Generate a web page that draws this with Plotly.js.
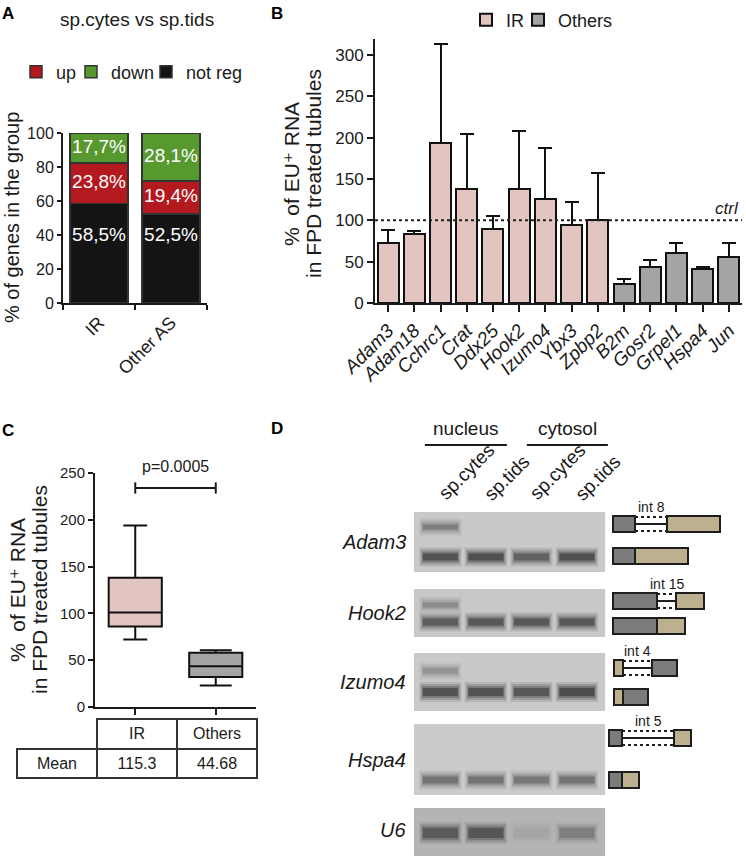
<!DOCTYPE html>
<html><head><meta charset="utf-8">
<script src="https://cdn.plot.ly/plotly-3.0.1.min.js"></script>
<style>html,body{margin:0;padding:0;background:#fff}#chart{width:746px;height:856px}</style>
</head><body><div id="chart"></div>
<script>
// ---------------- Panel A data ----------------
const groupsA = ['IR', 'Other AS'];
const notRegA = [58.5, 52.5];
const upA = [23.8, 19.4];
const downA = [17.7, 28.1];

// ---------------- Panel B data ----------------
const genesIR = ['Adam3','Adam18','Cchrc1','Crat','Ddx25','Hook2','Izumo4','Ybx3','Zpbp2'];
const valuesIR = [72, 83, 194, 138, 89, 138, 126, 94, 101];
const errorsIR = [16, 4, 119, 66, 16, 70, 61, 28, 56];
const genesOthers = ['B2m','Gosr2','Grpel1','Hspa4','Jun'];
const valuesOthers = [23, 43.5, 60.5, 41, 55.5];
const errorsOthers = [6, 8.5, 11.5, 2, 16.5];
const ctrlLevel = 100;

// ---------------- Panel C data ----------------
const tableHeader = [' ', 'IR', 'Others'];
const tableRow = ['Mean', '115.3', '44.68'];
const pValueText = 'p=0.0005';
const bracketLevel = 234;

// ---------------- Panel D data ----------------
const gelGenes = ['Adam3','Hook2','Izumo4','Hspa4','U6'];
const laneLabels = ['sp.cytes','sp.tids','sp.cytes','sp.tids'];
const fractions = ['nucleus','cytosol'];
const fractionLaneStart = [0.66, 2.9];
const fractionLaneEnd = [2.46, 4.68];
const gelTop = [512, 589, 653, 724, 808];
const gelBottom = [572, 637, 711, 795, 858];
const gelShade = ['#c9c9c9','#c8c8c8','#c9c9c9','#cbcbcb','#b4b4b4'];
const upperBandY = [527, 605, 671, null, null];
const lowerBandY = [557, 622, 692, 780, 833];
const upperBand = [[0.45,0,0,0],[0.35,0,0,0],[0.3,0,0,0],[0,0,0,0],[0,0,0,0]];
const lowerBand = [[0.85,0.9,0.7,0.9],[0.75,0.8,0.8,0.8],[0.85,0.85,0.8,0.95],[0.55,0.55,0.5,0.55],[0.7,0.75,0.08,0.35]];
const bandThick = [7, 7, 8, 7, 10];
// intron-retention constructs
const conGenes = ['Adam3','Hook2','Izumo4','Hspa4'];
const intronNames = ['int 8','int 15','int 4','int 5'];
const exon1Len = [22, 44, 9, 13];
const intronLen = [32, 19, 29, 52];
const exon2Len = [53, 28, 25, 17];
const exon1Kind = ['grey','grey','tan','grey'];
const exon2Kind = ['tan','tan','grey','tan'];
const conStart = [13, 13, 14, 9];
const conUpperY = [524, 601, 668, 738];
const conLowerY = [556, 626, 697, 780];

// ---------------- helpers / style ----------------
const W = 746, H = 856;
const fx = p => p / W, fy = p => 1 - p / H;
const FONT = 'Arial, "Liberation Sans", "DejaVu Sans", sans-serif';
const INK = '#1a1a1a';
const PINK = '#e2c5c1', GREY = '#a4a4a4';
const RED = '#b3191f', GREEN = '#58992f', BLACK = '#141414';
const exonColor = {grey: '#7b7b7b', tan: '#bdb08e'};

const traces = [];
// Panel A stacked bars
traces.push({type:'bar', x: groupsA, y: notRegA, name:'not reg', legend:'legend4',
  marker:{color: BLACK, line:{color:'#333', width:1.5}}, xaxis:'x', yaxis:'y', hoverinfo:'skip'});
traces.push({type:'bar', x: groupsA, y: upA, name:'up', legend:'legend',
  marker:{color: RED, line:{color:'#333', width:1.5}}, xaxis:'x', yaxis:'y', hoverinfo:'skip'});
traces.push({type:'bar', x: groupsA, y: downA, name:'down', legend:'legend3',
  marker:{color: GREEN, line:{color:'#333', width:1.5}}, xaxis:'x', yaxis:'y', hoverinfo:'skip'});
const fmt = v => v.toFixed(1).replace('.', ',') + '%';
const notRegLabelLevel = 39;
traces.push({type:'scatter', mode:'text', xaxis:'x', yaxis:'y', showlegend:false, hoverinfo:'skip', cliponaxis:false,
  x: groupsA.concat(groupsA, groupsA),
  y: groupsA.map(() => notRegLabelLevel)
      .concat(groupsA.map((g,i) => notRegA[i] + upA[i]/2))
      .concat(groupsA.map((g,i) => notRegA[i] + upA[i] + downA[i]/2)),
  text: notRegA.map(fmt).concat(upA.map(fmt), downA.map(fmt)),
  textfont:{color:'#ffffff', size:19, family: FONT}});

// Panel B bars
traces.push({type:'bar', x: genesIR, y: valuesIR, name:'IR', legend:'legend2', xaxis:'x2', yaxis:'y2',
  marker:{color: PINK, line:{color:'#111', width:2}}, hoverinfo:'skip',
  error_y:{type:'data', symmetric:false, array: errorsIR, arrayminus: errorsIR.map(() => 0), color:'#111', thickness:2, width:7}});
traces.push({type:'bar', x: genesOthers, y: valuesOthers, name:'Others', legend:'legend5', xaxis:'x2', yaxis:'y2',
  marker:{color: GREY, line:{color:'#111', width:2}}, hoverinfo:'skip',
  error_y:{type:'data', symmetric:false, array: errorsOthers, arrayminus: errorsOthers.map(() => 0), color:'#111', thickness:2, width:7}});

// Panel C boxes (from the panel B values)
traces.push({type:'box', y: valuesIR, x0: 0, name:'IR', width:0.66, fillcolor: PINK, line:{color:'#111', width:2},
  boxpoints:false, quartilemethod:'exclusive', whiskerwidth:0.45, xaxis:'x3', yaxis:'y3', showlegend:false, hoverinfo:'skip'});
traces.push({type:'box', y: valuesOthers, x0: 1, name:'Others', width:0.66, fillcolor: GREY, line:{color:'#111', width:2},
  boxpoints:false, quartilemethod:'exclusive', whiskerwidth:0.6, xaxis:'x3', yaxis:'y3', showlegend:false, hoverinfo:'skip'});

// Panel C table
traces.push({type:'table', domain:{x:[fx(17), fx(257)], y:[fy(780), fy(719)]}, columnwidth:[1,1,1],
  header:{values: tableHeader, height:30, align:'center',
    font:{family: FONT, size:16, color: INK},
    line:{color:['rgba(0,0,0,0)','#333','#333'], width:1.5},
    fill:{color:['rgba(0,0,0,0)','#ffffff','#ffffff']}},
  cells:{values: tableRow.map(v => [v]), height:29, align:'center',
    font:{family: FONT, size:16, color: INK},
    line:{color:'#333', width:1.5}, fill:{color:'#ffffff'}}});

// Panel D anchor traces (lane centres / construct origins), invisible
traces.push({type:'scatter', mode:'markers', x:[1,2,3,4], y: lowerBandY.slice(0,4), xaxis:'x4', yaxis:'y4',
  marker:{opacity:0}, showlegend:false, hoverinfo:'skip'});
traces.push({type:'scatter', mode:'markers', x: conStart, y: conUpperY, xaxis:'x5', yaxis:'y5',
  marker:{opacity:0}, showlegend:false, hoverinfo:'skip'});

// ---------------- shapes ----------------
const shapes = [];
shapes.push({type:'line', xref:'x2 domain', yref:'y2', x0:0, x1:1, y0: ctrlLevel, y1: ctrlLevel,
  line:{color:'#222', width:2, dash:'dot'}});
shapes.push({type:'line', xref:'x3', yref:'y3', x0:0, x1:1, y0: bracketLevel, y1: bracketLevel, line:{color:INK, width:2}});
[0,1].forEach(xv => shapes.push({type:'line', xref:'x3', yref:'y3', x0:xv, x1:xv, y0: bracketLevel-6, y1: bracketLevel+6, line:{color:INK, width:2}}));

gelGenes.forEach((g, gi) => {
  shapes.push({type:'rect', xref:'x4', yref:'y4', x0:0.42, x1:4.62, y0: gelTop[gi], y1: gelBottom[gi],
    fillcolor: gelShade[gi], line:{width:0}});
});
const blur = [{dx:0.08, dy:6, a:0.14}, {dx:0.05, dy:4, a:0.2}, {dx:0.02, dy:2, a:0.32}, {dx:0, dy:0, a:0.55}];
function band(lane, y, inten, t) {
  if (!inten || y === null) return;
  blur.forEach(b => shapes.push({type:'rect', xref:'x4', yref:'y4',
    x0: lane - 0.385 - b.dx, x1: lane + 0.385 + b.dx, y0: y - t/2 - b.dy, y1: y + t/2 + b.dy,
    fillcolor: 'rgba(38,38,38,' + (b.a * inten).toFixed(3) + ')', line:{width:0}}));
}
gelGenes.forEach((g, gi) => {
  for (let l = 0; l < 4; l++) {
    band(l + 1, upperBandY[gi], upperBand[gi][l], bandThick[gi] - 2);
    band(l + 1, lowerBandY[gi], lowerBand[gi][l], bandThick[gi]);
  }
});
fractions.forEach((f, i) => shapes.push({type:'line', xref:'x4', yref:'y4', x0: fractionLaneStart[i], x1: fractionLaneEnd[i],
  y0: 445, y1: 445, line:{color: INK, width:2}}));

const boxH = 16;
function exonRect(x0, len, y, kind) {
  shapes.push({type:'rect', xref:'x5', yref:'y5', x0: x0, x1: x0 + len, y0: y - boxH/2, y1: y + boxH/2,
    fillcolor: exonColor[kind], line:{color:'#1e1e1e', width:2}});
}
conGenes.forEach((g, i) => {
  const s = conStart[i], yU = conUpperY[i], yL = conLowerY[i];
  const iStart = s + exon1Len[i], iEnd = iStart + intronLen[i];
  [yU - boxH/2 + 1, yU + boxH/2 - 1].forEach(yy => shapes.push({type:'line', xref:'x5', yref:'y5',
    x0: iStart, x1: iEnd, y0: yy, y1: yy, line:{color:'#1e1e1e', width:2, dash:'dot'}}));
  shapes.push({type:'line', xref:'x5', yref:'y5', x0: iStart, x1: iEnd, y0: yU, y1: yU, line:{color:'#1e1e1e', width:2}});
  exonRect(s, exon1Len[i], yU, exon1Kind[i]);
  exonRect(iEnd, exon2Len[i], yU, exon2Kind[i]);
  exonRect(s, exon1Len[i], yL, exon1Kind[i]);
  exonRect(s + exon1Len[i], exon2Len[i], yL, exon2Kind[i]);
});

// ---------------- annotations ----------------
const ann = [];
function txt(x, y, text, opts) {
  ann.push(Object.assign({xref:'paper', yref:'paper', x: fx(x), y: fy(y), text: text, showarrow:false,
    xanchor:'center', yanchor:'middle', font:{family: FONT, size:16, color: INK}}, opts || {}));
}
const letterFont = {family:FONT, size:17, color:'#000', weight:'bold'};
txt(8, 14, 'A', {font: letterFont});
txt(277, 14, 'B', {font: letterFont});
txt(8, 430, 'C', {font: letterFont});
txt(277, 429, 'D', {font: letterFont});
txt(137, 20, 'sp.cytes vs sp.tids', {font:{family:FONT, size:19, color:INK}});
txt(12, 218, '% of genes in the group', {textangle:-90, font:{family:FONT, size:20, color:INK}});
const yTitle1 = '%  of EU\u207A RNA', yTitle2 = 'in FPD treated tubules';
txt(291, 174, yTitle1, {textangle:-90, font:{family:FONT, size:21, color:INK}});
txt(313, 174, yTitle2, {textangle:-90, font:{family:FONT, size:21, color:INK}});
txt(17, 590, yTitle1, {textangle:-90, font:{family:FONT, size:21, color:INK}});
txt(39, 590, yTitle2, {textangle:-90, font:{family:FONT, size:21, color:INK}});
ann.push({xref:'x3', yref:'y3', x:0.5, y: bracketLevel, yshift: 21, text: pValueText, showarrow:false,
  font:{family:FONT, size:16, color:INK}});
ann.push({xref:'paper', yref:'y2', x: fx(741), y: ctrlLevel, yshift: 12, xanchor:'right', text:'ctrl', showarrow:false,
  font:{family:FONT, size:17, color:INK, style:'italic'}});
fractions.forEach((f, i) => ann.push({xref:'x4', yref:'y4', x:(fractionLaneStart[i] + fractionLaneEnd[i]) / 2, y: 428,
  text: f, showarrow:false, font:{family:FONT, size:19, color:INK}}));
laneLabels.forEach((l, i) => ann.push({xref:'x4', yref:'y4', x: i + 1 - 0.19, y: 507, xanchor:'left', yanchor:'bottom',
  textangle:-45, text: l, showarrow:false, font:{family:FONT, size:19, color:INK}}));
gelGenes.forEach((g, gi) => ann.push({xref:'x4', yref:'y4', x:0.42, xshift:-6, y: Math.min((gelTop[gi] + gelBottom[gi]) / 2, 830),
  xanchor:'right', text: g, showarrow:false, font:{family:FONT, size:20, color:INK, style:'italic'}}));
conGenes.forEach((g, i) => ann.push({xref:'x5', yref:'y5', x: conStart[i] + exon1Len[i] + intronLen[i] / 2,
  y: conUpperY[i] - boxH/2, yanchor:'bottom', yshift: -1, text: intronNames[i], showarrow:false,
  font:{family:FONT, size:14, color:INK}}));

// ---------------- axes ----------------
const axBase = {showline:true, linecolor: INK, linewidth:2, ticks:'outside', tickwidth:2, tickcolor: INK,
  showgrid:false, zeroline:false, fixedrange:true, tickfont:{family: FONT, color: INK}};
const legBase = {xanchor:'left', yanchor:'middle', orientation:'h', bgcolor:'rgba(0,0,0,0)', borderwidth:0,
  font:{family:FONT, size:18, color:INK}, itemclick:false, itemdoubleclick:false, traceorder:'normal'};
const layout = {
  width: W, height: H, margin:{l:0, r:0, t:0, b:0}, paper_bgcolor:'#fff', plot_bgcolor:'rgba(0,0,0,0)',
  barmode:'stack', boxmode:'overlay', font:{family: FONT, color: INK},
  showlegend: true,
  legend:  Object.assign({}, legBase, {x: fx(16),  y: fy(72)}),
  legend3: Object.assign({}, legBase, {x: fx(71),  y: fy(72)}),
  legend4: Object.assign({}, legBase, {x: fx(146), y: fy(72)}),
  legend2: Object.assign({}, legBase, {x: fx(466), y: fy(20)}),
  legend5: Object.assign({}, legBase, {x: fx(518), y: fy(20)}),
  xaxis: Object.assign({}, axBase, {domain:[fx(63), fx(207)], anchor:'y', type:'category', range:[-0.5, 1.5],
    tickson:'boundaries', ticklen:5, tickangle:-45, tickfont:{family:FONT, size:18, color:INK}}),
  yaxis: Object.assign({}, axBase, {domain:[fy(303), fy(133)], anchor:'x', range:[0, 100], tickvals:[0,20,40,60,80,100],
    ticklen:4, tickfont:{family:FONT, size:16, color:INK}}),
  xaxis2: Object.assign({}, axBase, {domain:[fx(375), fx(742)], anchor:'y2', type:'category', range:[-0.5, 13.5],
    categoryorder:'array', categoryarray: genesIR.concat(genesOthers), ticklen:7, tickangle:-45,
    tickfont:{family:FONT, size:19, color:INK, style:'italic'}}),
  yaxis2: Object.assign({}, axBase, {domain:[fy(303), fy(38.5)], anchor:'x2', range:[0, 320], tickvals:[0,50,100,150,200,250,300],
    ticklen:6, tickfont:{family:FONT, size:17, color:INK}}),
  xaxis3: Object.assign({}, axBase, {domain:[fx(95), fx(256)], anchor:'y3', type:'linear', range:[-0.5, 1.5],
    tickvals:[0,1], showticklabels:false, ticklen:6}),
  yaxis3: Object.assign({}, axBase, {domain:[fy(707), fy(473)], anchor:'x3', range:[0, 250], tickvals:[0,50,100,150,200,250],
    ticklen:5, tickfont:{family:FONT, size:15, color:INK}}),
  xaxis4: {domain:[fx(400), fx(616)], anchor:'y4', range:[0.112, 4.859], visible:false, fixedrange:true},
  yaxis4: {domain:[0, 1], anchor:'x4', range:[H, 0], visible:false, fixedrange:true},
  xaxis5: {domain:[fx(600), 1], anchor:'y5', range:[0, 146], visible:false, fixedrange:true},
  yaxis5: {domain:[0, 1], anchor:'x5', range:[H, 0], visible:false, fixedrange:true},
  shapes: shapes,
  annotations: ann
};
Plotly.newPlot('chart', traces, layout, {displayModeBar:false, staticPlot:true});
</script>
</body></html>
